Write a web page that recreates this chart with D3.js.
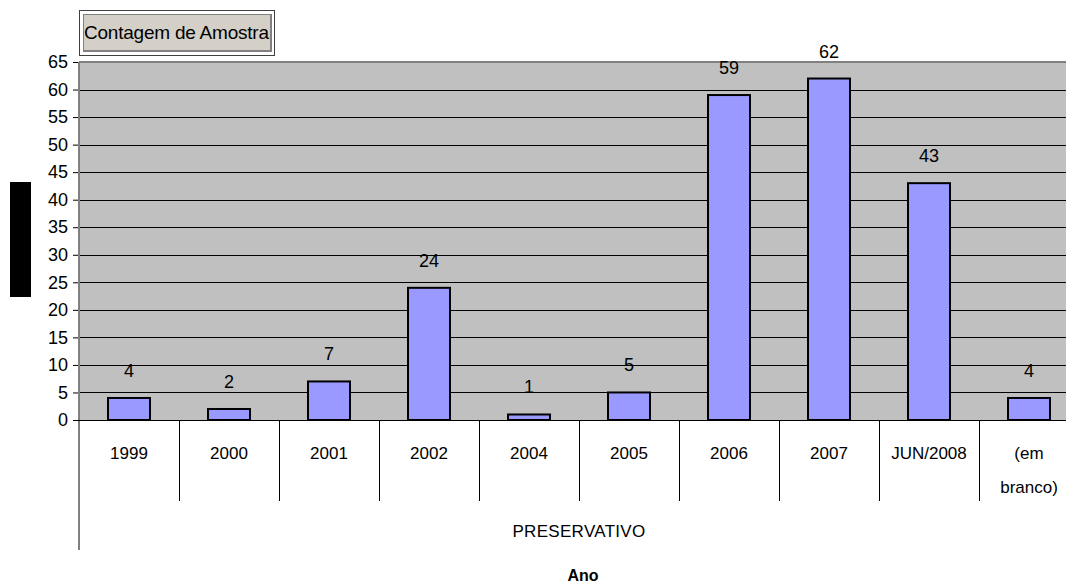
<!DOCTYPE html>
<html>
<head>
<meta charset="utf-8">
<script src="https://cdn.jsdelivr.net/npm/d3@7"></script>
<style>
  html, body { margin: 0; padding: 0; background: #fff; overflow: hidden; }
  text { font-family: "Liberation Sans", Arial, sans-serif; fill: #000; }
</style>
</head>
<body>
<script>
var categories = ["1999", "2000", "2001", "2002", "2004", "2005", "2006", "2007", "JUN/2008", "(em branco)"];
var values = [4, 2, 7, 24, 1, 5, 59, 62, 43, 4];
var yTicks = [0, 5, 10, 15, 20, 25, 30, 35, 40, 45, 50, 55, 60, 65];
var groupLabel = "PRESERVATIVO";
var axisTitle = "Ano";
var fieldLabel = "Contagem de Amostra";

var width = 1066,
    height = 583,
    plotLeft = 79,
    plotRight = 1079,
    plotTop = 62,
    plotBottom = 420;

var svg = d3.select("body").append("svg")
    .attr("width", width)
    .attr("height", height);

var x = d3.scaleBand()
    .domain(categories)
    .range([plotLeft, plotRight])
    .paddingInner(0.58)
    .paddingOuter(0.29);

var y = d3.scaleLinear()
    .domain([0, 65])
    .range([plotBottom, plotTop]);

// plot background
svg.append("rect")
    .attr("x", plotLeft).attr("y", plotTop)
    .attr("width", plotRight - plotLeft).attr("height", plotBottom - plotTop)
    .attr("fill", "#c0c0c0");

// gridlines
svg.selectAll("line.grid")
    .data(yTicks.filter(function(d) { return d > 0 && d < 65; }))
  .enter().append("line")
    .attr("class", "grid")
    .attr("x1", plotLeft).attr("x2", plotRight)
    .attr("y1", function(d) { return Math.round(y(d)) + 0.5; })
    .attr("y2", function(d) { return Math.round(y(d)) + 0.5; })
    .attr("stroke", "#000").attr("stroke-width", 1);

// top border of plot
svg.append("line")
    .attr("x1", plotLeft).attr("x2", plotRight)
    .attr("y1", plotTop).attr("y2", plotTop)
    .attr("stroke", "#808080").attr("stroke-width", 2);

// bars
svg.selectAll("rect.bar")
    .data(values)
  .enter().append("rect")
    .attr("class", "bar")
    .attr("x", function(d, i) { return x(categories[i]); })
    .attr("y", function(d) { return y(d); })
    .attr("width", x.bandwidth())
    .attr("height", function(d) { return y(0) - y(d); })
    .attr("fill", "#9999ff")
    .attr("stroke", "#000")
    .attr("stroke-width", 2);

// value labels
svg.selectAll("text.val")
    .data(values)
  .enter().append("text")
    .attr("class", "val")
    .attr("x", function(d, i) { return x(categories[i]) + x.bandwidth() / 2; })
    .attr("y", function(d) { return y(d) - 21; })
    .attr("text-anchor", "middle")
    .style("font-size", "18px")
    .text(function(d) { return d; });

// y axis
var yAxis = d3.axisLeft(y)
    .tickValues(yTicks)
    .tickSize(6)
    .tickPadding(5);

var gy = svg.append("g")
    .attr("transform", "translate(" + plotLeft + ",0)")
    .call(yAxis);
gy.select(".domain").remove();
gy.selectAll(".tick line").attr("stroke", "#000");
gy.selectAll(".tick text")
    .style("font-size", "18px")
    .style("font-family", "'Liberation Sans', Arial, sans-serif")
    .attr("fill", "#000");

svg.append("line")
    .attr("x1", plotLeft).attr("x2", plotLeft)
    .attr("y1", plotTop).attr("y2", 550)
    .attr("stroke", "#808080").attr("stroke-width", 2);

// x axis baseline
svg.append("line")
    .attr("x1", plotLeft - 6).attr("x2", plotRight)
    .attr("y1", plotBottom + 0.5).attr("y2", plotBottom + 0.5)
    .attr("stroke", "#000").attr("stroke-width", 1);

// category separators
svg.selectAll("line.sep")
    .data(categories.slice(1))
  .enter().append("line")
    .attr("class", "sep")
    .attr("x1", function(d) { return x(d) - x.step() * 0.29 + 0.5; })
    .attr("x2", function(d) { return x(d) - x.step() * 0.29 + 0.5; })
    .attr("y1", plotBottom).attr("y2", 501)
    .attr("stroke", "#000").attr("stroke-width", 1);

// category labels
var catText = svg.selectAll("text.cat")
    .data(categories)
  .enter().append("text")
    .attr("class", "cat")
    .attr("text-anchor", "middle")
    .style("font-size", "17px")
    .attr("x", function(d) { return x(d) + x.bandwidth() / 2; })
    .attr("y", 459);

catText.each(function(d) {
  var parts = d.indexOf(" ") > 0 ? d.split(" ") : [d];
  var t = d3.select(this);
  parts.forEach(function(p, i) {
    t.append("tspan")
      .attr("x", t.attr("x"))
      .attr("dy", i === 0 ? 0 : 34)
      .text(p);
  });
});

svg.append("text")
    .attr("x", (plotLeft + plotRight) / 2)
    .attr("y", 537)
    .attr("text-anchor", "middle")
    .style("font-size", "17px")
    .style("letter-spacing", "0.3px")
    .text(groupLabel);

svg.append("text")
    .attr("x", (plotLeft + plotRight) / 2 + 4)
    .attr("y", 581)
    .attr("text-anchor", "middle")
    .style("font-size", "16px")
    .style("font-weight", "bold")
    .text(axisTitle);

// field button
svg.append("rect")
    .attr("x", 79.5).attr("y", 10.5)
    .attr("width", 195).attr("height", 45)
    .attr("fill", "#fff").attr("stroke", "#404040").attr("stroke-width", 1);
svg.append("rect")
    .attr("x", 83).attr("y", 14)
    .attr("width", 189).attr("height", 38)
    .attr("fill", "#808080");
svg.append("rect")
    .attr("x", 84).attr("y", 15)
    .attr("width", 186).attr("height", 35)
    .attr("fill", "#d4d0c8");
svg.append("text")
    .attr("x", 84)
    .attr("y", 39)
    .style("font-size", "19px")
    .attr("textLength", 185)
    .attr("lengthAdjust", "spacing")
    .text(fieldLabel);

// redacted axis title box
svg.append("rect")
    .attr("x", 10).attr("y", 182)
    .attr("width", 21).attr("height", 115)
    .attr("fill", "#000");
</script>
</body>
</html>
